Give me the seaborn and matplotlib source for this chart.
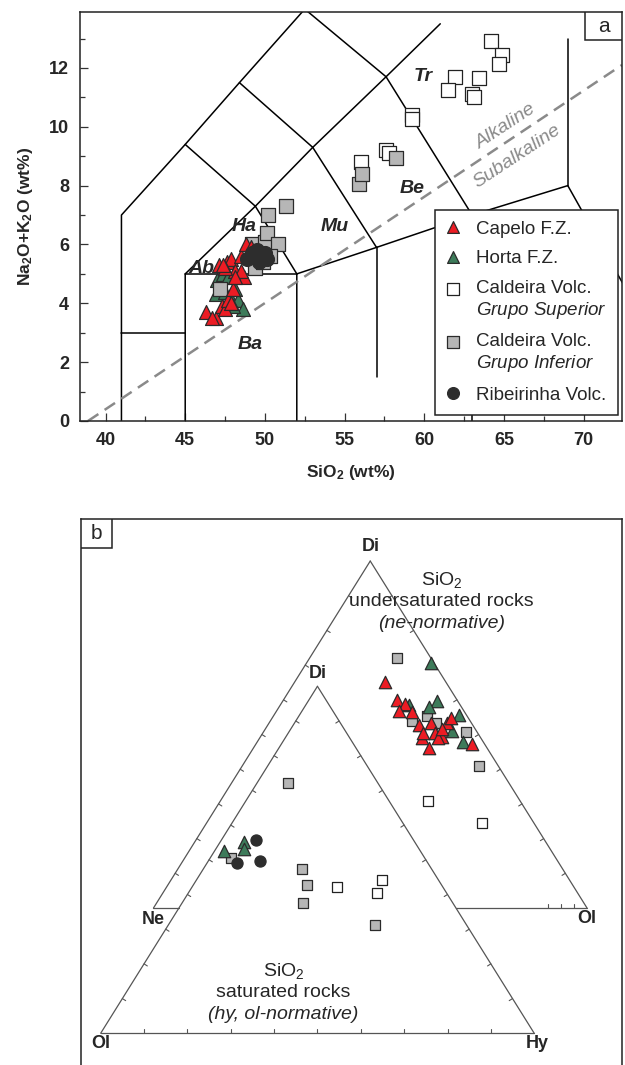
import numpy as np
import pandas as pd
import matplotlib
matplotlib.use('Agg')
import matplotlib.pyplot as plt
from matplotlib.patches import Rectangle
from matplotlib.ticker import MultipleLocator
from matplotlib.legend_handler import HandlerPathCollection
import seaborn as sns

sns.set_theme(style='white')
plt.rcParams['font.family'] = ['Liberation Sans', 'DejaVu Sans']
plt.rcParams['mathtext.fontset'] = 'custom'
plt.rcParams['mathtext.rm'] = 'Liberation Sans'
plt.rcParams['mathtext.it'] = 'Liberation Sans:italic'
plt.rcParams['mathtext.bf'] = 'Liberation Sans:bold'

# ---------------- panel a: TAS (SiO2 vs Na2O+K2O, wt%) ----------------
capelo_si = [46.3, 46.9, 47.3, 47.5, 47.7, 48.0, 47.1, 47.6, 47.9, 48.5,
             48.7, 48.1, 48.8, 49.1, 47.5, 48.5, 48.1, 47.4, 46.7, 47.9]
capelo_alk = [3.7, 3.5, 3.9, 3.8, 4.1, 4.5, 5.3, 5.4, 5.5, 5.6,
              4.9, 5.1, 6.0, 5.9, 5.2, 5.1, 4.9, 5.3, 3.5, 4.0]

horta_si = [46.9, 47.0, 47.2, 47.5, 47.8, 48.1, 48.3, 48.6, 47.4, 48.0, 47.7]
horta_alk = [4.3, 4.8, 4.6, 4.4, 4.2, 4.5, 4.1, 3.8, 5.0, 3.9, 4.9]

sup_si = [64.2, 64.9, 64.7, 61.9, 61.5, 63.4, 63.0, 63.1, 59.2, 59.2, 56.0, 57.6, 57.8]
sup_alk = [12.9, 12.45, 12.15, 11.7, 11.25, 11.65, 11.1, 11.0, 10.4, 10.25, 8.8, 9.2, 9.1]

inf_si = [47.2, 49.4, 49.2, 50.0, 50.1, 50.2, 50.8, 51.3, 49.9, 50.3, 55.9, 56.1, 58.2]
inf_alk = [4.5, 5.2, 6.0, 6.1, 6.4, 7.0, 6.0, 7.3, 5.4, 5.6, 8.05, 8.4, 8.95]

rib_si = [48.9, 49.2, 49.5, 49.8, 50.0, 50.1, 49.6, 49.3]
rib_alk = [5.5, 5.7, 5.8, 5.6, 5.7, 5.5, 5.4, 5.6]

# Le Bas et al. (1986) field boundaries
tas_lines = [
    [(41, 0), (41, 7), (45, 9.4), (48.4, 11.5), (52.5, 14)],
    [(41, 3), (45, 3)],
    [(45, 0), (45, 5), (49.4, 7.3), (53, 9.3), (57.6, 11.7), (61, 13.5)],
    [(45, 5), (52, 5)],
    [(52, 0), (52, 5), (57, 5.9), (63, 7), (69, 8), (77.3, 0)],
    [(57, 1.5), (57, 5.9)],
    [(63, 0), (63, 7)],
    [(69, 8), (69, 13)],
    [(49.4, 7.3), (52, 5)],
    [(53, 9.3), (57, 5.9)],
    [(57.6, 11.7), (63, 7)],
    [(45, 9.4), (49.4, 7.3)],
    [(48.4, 11.5), (53, 9.3)],
    [(52.5, 14), (57.6, 11.7)],
]
alk_divider = [(38.9, 0.0), (72.4, 12.1)]
field_names = ['Tr', 'Be', 'Mu', 'Ha', 'Ab', 'Ba']
field_si = [59.9, 59.25, 54.4, 48.7, 46.0, 49.1]
field_alk = [11.7, 7.9, 6.6, 6.6, 5.2, 2.6]

# ---------------- panel b: normative Di-Ne-Ol / Ol-Di-Hy ----------------
# ne-normative samples: Di and Ol (Ne = rest); hy-normative: Di and Hy (Ol = rest)
capelo_ne_di = [65.2, 59.9, 58.8, 56.7, 56.4, 52.7, 53.2, 50.5, 53.2, 54.8, 49.4, 48.9, 46.2, 48.9, 47.3, 50.5, 51.6]
capelo_ne_ol = [20.9, 26.3, 28.6, 28.2, 31.5, 34.8, 37.3, 39.6, 41.2, 41.2, 41.8, 37.5, 40.5, 41.2, 49.9, 36.9, 40.7]

horta_ne_di = [70.6, 59.6, 58.0, 55.6, 51.0, 47.8, 58.5]
horta_ne_ol = [28.7, 35.5, 34.6, 42.7, 43.3, 47.6, 29.8]
horta_hy_di = [52.5, 55.0, 53.1]
horta_hy_hy = [2.2, 5.5, 6.5]

sup_ne_di = [30.7, 24.6]
sup_ne_ol = [48.0, 63.4]
sup_hy_di = [42.2, 44.1, 40.5]
sup_hy_hy = [33.3, 42.9, 43.5]

inf_ne_di = [72.1, 55.3, 53.9, 53.2, 50.7, 40.9]
inf_ne_ol = [20.1, 35.4, 32.7, 38.5, 46.8, 54.6]
inf_hy_di = [50.4, 72.2, 47.2, 42.7, 37.6, 31.2]
inf_hy_hy = [4.9, 7.0, 22.9, 26.2, 27.8, 47.7]

rib_hy_di = [55.8, 49.6, 49.1]
rib_hy_hy = [8.0, 11.9, 6.8]

# triangle corners in panel-b drawing units (left, right, top)
BIG = np.array([[0.0, 0.0], [1.0, 0.0], [0.5, 0.8005]])              # Ne, Ol, Di
SMALL = np.array([[-0.1218, -0.289], [0.8782, -0.289], [0.3782, 0.5115]])  # Ol, Hy, Di


def tern_xy(tri, di, right):
    di = np.asarray(di, float) / 100
    right = np.asarray(right, float) / 100
    left = 1 - di - right
    xy = np.outer(left, tri[0]) + np.outer(right, tri[1]) + np.outer(di, tri[2])
    return xy[:, 0], xy[:, 1]


styles = {
    'Capelo F.Z.': dict(marker='^', color='#ec1c24', edgecolor='#2b2b2b'),
    'Horta F.Z.': dict(marker='^', color='#3d7b5a', edgecolor='#2b2b2b'),
    'sup': dict(marker='s', color='white', edgecolor='#222222'),
    'inf': dict(marker='s', color='#b6b6b6', edgecolor='#2b2b2b'),
    'Ribeirinha Volc.': dict(marker='o', color='#2d2d2d', edgecolor='#2d2d2d'),
}

fig = plt.figure(figsize=(6.25, 10.65), dpi=100)

# ======================= panel a =======================
ax = fig.add_axes([0.128, 0.6047, 0.8672, 0.384])
for seg in tas_lines:
    xs, ys = zip(*seg)
    ax.plot(xs, ys, color='black', lw=1.1, zorder=1)
xs, ys = zip(*alk_divider)
ax.plot(xs, ys, color='#8a8a8a', lw=1.8, ls=(0, (5, 3)), zorder=1)
ax.text(65.1, 10.0, 'Alkaline', rotation=33.5, color='#8a8a8a', style='italic',
        fontsize=14, ha='center', va='center')
ax.text(65.8, 9.0, 'Subalkaline', rotation=33.5, color='#8a8a8a', style='italic',
        fontsize=14, ha='center', va='center')
for name, x, y in zip(field_names, field_si, field_alk):
    ax.text(x, y, name, fontsize=14, fontweight='bold', style='italic',
            ha='center', va='center')

handles = {}
order = [
    ('sup', sup_si, sup_alk),
    ('Horta F.Z.', horta_si, horta_alk),
    ('inf', inf_si, inf_alk),
    ('Capelo F.Z.', capelo_si, capelo_alk),
    ('Ribeirinha Volc.', rib_si, rib_alk),
]
for key, si, alk in order:
    df = pd.DataFrame({'SiO2': si, 'alk': alk})
    st = styles[key]
    sns.scatterplot(data=df, x='SiO2', y='alk', ax=ax, s=100, linewidth=0.9,
                    marker=st['marker'], color=st['color'], edgecolor=st['edgecolor'],
                    zorder=3, legend=False)
    handles[key] = ax.collections[-1]

ax.set_xlim(38.4, 72.4)
ax.set_ylim(0, 13.9)
ax.xaxis.set_major_locator(MultipleLocator(5))
ax.xaxis.set_minor_locator(MultipleLocator(2.5))
ax.yaxis.set_major_locator(MultipleLocator(2))
ax.yaxis.set_minor_locator(MultipleLocator(1))
ax.tick_params(which='both', direction='in', bottom=True, left=True, top=False, right=False,
               labelsize=13, color='#333333', width=0.9)
ax.tick_params(which='major', length=6, pad=8)
ax.tick_params(which='minor', length=3.5)
plt.setp(ax.get_xticklabels() + ax.get_yticklabels(), fontweight='bold')
for sp in ax.spines.values():
    sp.set_color('#222222')
    sp.set_linewidth(1.1)
ax.set_xlabel(r'SiO$_\mathbf{2}$ (wt%)', fontsize=12.5, fontweight='bold', labelpad=10)
ax.set_ylabel(r'Na$_\mathbf{2}$O+K$_\mathbf{2}$O (wt%)', fontsize=12.5, fontweight='bold', labelpad=10)

# legend: two-line entries keep the marker level with the first line
leg_handles = [handles['Capelo F.Z.'], handles['Horta F.Z.'], handles['sup'],
               handles['inf'], handles['Ribeirinha Volc.']]
leg_labels = ['Capelo F.Z.', 'Horta F.Z.', 'Caldeira Volc.\n' + r'$\it{Grupo\ Superior}$',
              'Caldeira Volc.\n' + r'$\it{Grupo\ Inferior}$', 'Ribeirinha Volc.']
two_line = HandlerPathCollection(yoffsets=[1.36])
leg = ax.legend(leg_handles, leg_labels, loc='lower right', bbox_to_anchor=(0.9926, 0.0147),
                fontsize=13.5, frameon=True, fancybox=False, framealpha=1, edgecolor='#222222',
                labelspacing=0.66, handletextpad=0.8, borderpad=0.6, handlelength=0.8,
                borderaxespad=0, scatterpoints=1, scatteryoffsets=[0.5], markerscale=0.85,
                handler_map={handles['sup']: two_line, handles['inf']: two_line})
leg.get_frame().set_linewidth(1.1)

ax.add_patch(Rectangle((0.9317, 0.9315), 0.0683, 0.0685, transform=ax.transAxes,
                       fc='white', ec='#222222', lw=1.1, zorder=5))
ax.text(0.9658, 0.9657, 'a', transform=ax.transAxes, fontsize=15, ha='center', va='center', zorder=6)

# ======================= panel b =======================
bx = fig.add_axes([0.1296, 0.0, 0.8656, 0.5131])
bx.set_xlim(-0.1672, 1.0807)
bx.set_ylim(-0.3622, 0.8985)
bx.set_xticks([])
bx.set_yticks([])
for sp in ['left', 'top', 'right']:
    bx.spines[sp].set_color('#222222')
    bx.spines[sp].set_linewidth(1.1)
bx.spines['bottom'].set_visible(False)

tri_col = '#555555'


def edge(p, q, ticks, inward):
    p, q = np.asarray(p), np.asarray(q)
    bx.plot([p[0], q[0]], [p[1], q[1]], color=tri_col, lw=0.9, zorder=1)
    d = (q - p) / np.linalg.norm(q - p)
    n = np.array([-d[1], d[0]]) * inward * 0.009
    for f in ticks:
        c = p + f * (q - p)
        bx.plot([c[0], c[0] + n[0]], [c[1], c[1] + n[1]], color=tri_col, lw=0.8, zorder=1)


tenths = np.arange(1, 10) / 10
# small triangle (Ol-Hy-Di)
edge(SMALL[0], SMALL[1], tenths, 1)
edge(SMALL[1], SMALL[2], tenths, 1)
edge(SMALL[2], SMALL[0], tenths, 1)
# big triangle (Ne-Ol-Di); base only outside the small triangle
edge(BIG[1], BIG[2], tenths, 1)
edge(BIG[2], BIG[0], tenths, 1)
t = (BIG[0][1] - SMALL[0][1]) / (SMALL[2][1] - SMALL[0][1])
x_l = SMALL[0][0] + t * (SMALL[2][0] - SMALL[0][0])
x_r = SMALL[1][0] + t * (SMALL[2][0] - SMALL[1][0])
edge(BIG[0], (x_l, 0.0), [], 1)
edge((x_r, 0.0), BIG[1], [f for f in tenths if f > x_r], 1)

vert_kw = dict(fontsize=13, fontweight='bold', ha='center', va='center')
bx.text(BIG[2][0], BIG[2][1] + 0.034, 'Di', **vert_kw)
bx.text(SMALL[2][0], SMALL[2][1] + 0.03, 'Di', **vert_kw)
bx.text(BIG[0][0], BIG[0][1] - 0.026, 'Ne', **vert_kw)
bx.text(BIG[1][0], BIG[1][1] - 0.024, 'Ol', **vert_kw)
bx.text(SMALL[0][0], SMALL[0][1] - 0.023, 'Ol', **vert_kw)
bx.text(SMALL[1][0] + 0.006, SMALL[1][1] - 0.023, 'Hy', **vert_kw)

bx.text(0.665, 0.757, r'SiO$_2$', fontsize=14, ha='center', va='center')
bx.text(0.665, 0.707, 'undersaturated rocks', fontsize=14, ha='center', va='center')
bx.text(0.665, 0.657, '(ne-normative)', fontsize=14, style='italic', ha='center', va='center')
bx.text(0.2994, -0.1444, r'SiO$_2$', fontsize=14, ha='center', va='center')
bx.text(0.2994, -0.196, 'saturated rocks', fontsize=14, ha='center', va='center')
bx.text(0.2994, -0.2448, '(hy, ol-normative)', fontsize=14, style='italic', ha='center', va='center')

panel_b = [
    ('sup', [(BIG, sup_ne_di, sup_ne_ol), (SMALL, sup_hy_di, sup_hy_hy)], 52),
    ('inf', [(BIG, inf_ne_di, inf_ne_ol), (SMALL, inf_hy_di, inf_hy_hy)], 52),
    ('Horta F.Z.', [(BIG, horta_ne_di, horta_ne_ol), (SMALL, horta_hy_di, horta_hy_hy)], 80),
    ('Capelo F.Z.', [(BIG, capelo_ne_di, capelo_ne_ol)], 80),
    ('Ribeirinha Volc.', [(SMALL, rib_hy_di, rib_hy_hy)], 64),
]
for key, parts, size in panel_b:
    st = styles[key]
    for tri, di, right in parts:
        x, y = tern_xy(tri, di, right)
        sns.scatterplot(x=x, y=y, ax=bx, s=size, linewidth=0.9, marker=st['marker'],
                        color=st['color'], edgecolor=st['edgecolor'], zorder=3, legend=False)

bx.add_patch(Rectangle((0, 1 - 29 / 546.5), 31 / 541, 29 / 546.5, transform=bx.transAxes,
                       fc='white', ec='#222222', lw=1.1, zorder=5))
bx.text(15.5 / 541, 1 - 14.5 / 546.5, 'b', transform=bx.transAxes, fontsize=15,
        ha='center', va='center', zorder=6)

fig.savefig('out.png', dpi=100)
